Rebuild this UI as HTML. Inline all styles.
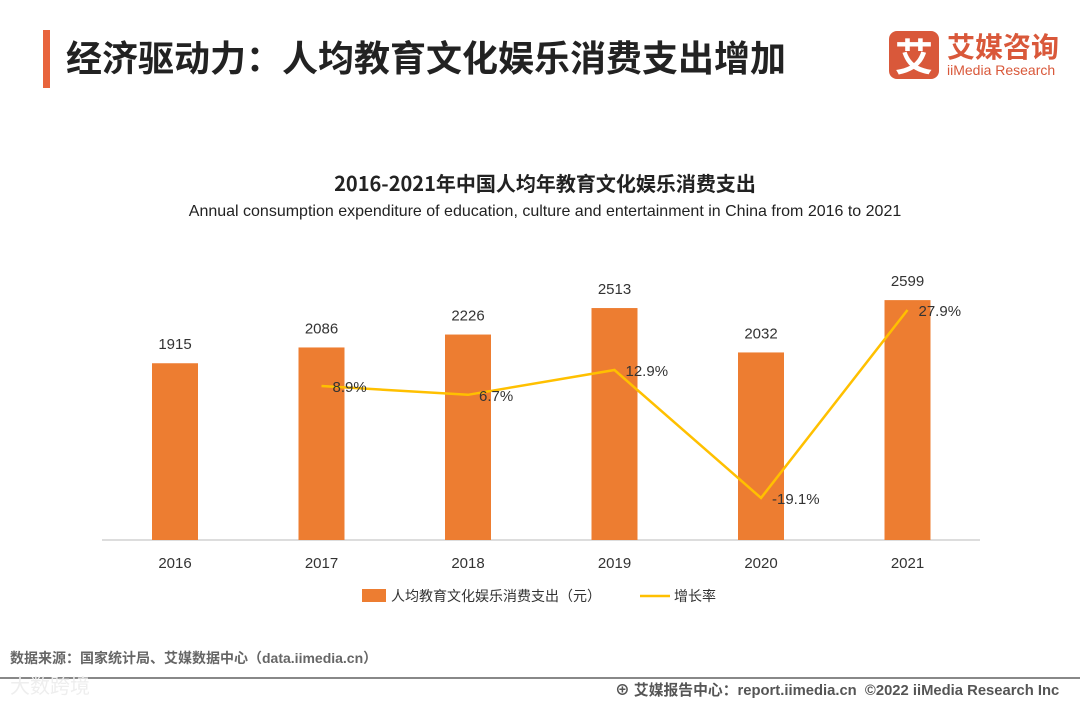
<!DOCTYPE html>
<html><head><meta charset="utf-8"><style>
body{margin:0;width:1080px;height:702px;background:#fff;font-family:"Liberation Sans","Noto Sans CJK SC",sans-serif;overflow:hidden;position:relative}
.abs{position:absolute}
</style></head><body>
<div class="abs" style="left:43px;top:30px;width:7px;height:58px;background:#e8643c"></div>
<div class="abs" style="left:66px;top:30px;font-size:36px;font-weight:bold;color:#222;font-family:'Noto Sans CJK SC',sans-serif;line-height:52px">经济驱动力：人均教育文化娱乐消费支出增加</div>
<div class="abs" style="left:889px;top:31px;width:50px;height:48px;background:#d9583a;border-radius:8px;color:#fff;font-size:38px;font-weight:bold;text-align:center;line-height:48px;font-family:'Noto Sans CJK SC',sans-serif">艾</div>
<div class="abs" style="left:947px;top:28px;font-size:28px;font-weight:bold;color:#d9583a;font-family:'Noto Sans CJK SC',sans-serif;line-height:36px">艾媒咨询</div>
<div class="abs" style="left:947px;top:62px;font-size:14px;color:#d9583a">iiMedia Research</div>
<div class="abs" style="left:0;width:1090px;top:168px;text-align:center;font-size:20px;font-weight:bold;color:#222;font-family:'Noto Sans CJK SC',sans-serif">2016-2021年中国人均年教育文化娱乐消费支出</div>
<div class="abs" style="left:0;width:1090px;top:203px;text-align:center;font-size:16px;color:#222">Annual consumption expenditure of education, culture and entertainment in China from 2016 to 2021</div>
<svg class="abs" style="left:0;top:0" width="1080" height="702" id="chart"></svg>
<div class="abs" style="left:10px;top:648px;font-size:14px;font-weight:bold;color:#666">数据来源：国家统计局、艾媒数据中心（data.iimedia.cn）</div>
<div class="abs" style="left:0;top:677px;width:1080px;height:2px;background:#888"></div>
<div class="abs" style="left:10px;top:670px;font-size:20px;color:#eee">大数跨境</div>
<div class="abs" style="left:615px;top:679px;font-size:14.8px;font-weight:bold;color:#555">⊕ 艾媒报告中心：report.iimedia.cn &nbsp;©2022 iiMedia Research Inc</div>
<script>
const years=["2016","2017","2018","2019","2020","2021"];
const spend=[1915,2086,2226,2513,2032,2599];
const growth=[null,8.9,6.7,12.9,-19.1,27.9];
const growthLabels=["","8.9%","6.7%","12.9%","-19.1%","27.9%"];
const svg=document.getElementById('chart');
const NS='http://www.w3.org/2000/svg';
const x=i=>175+i*146.5;
const y=v=>540-v*0.0923;
const yr=v=>421.6-v*4;
function mk(t,a){const e=document.createElementNS(NS,t);for(const k in a)e.setAttribute(k,a[k]);svg.appendChild(e);return e;}
const ax=mk('line',{x1:102,x2:980,y1:540,y2:540,stroke:'#bbb','stroke-width':1});


spend.forEach((v,i)=>{
const r=mk('rect',{x:x(i)-23,y:y(v),width:46,height:540-y(v),fill:'#ed7d31'});


const t=mk('text',{x:x(i),y:y(v)-14,'text-anchor':'middle','font-size':15,fill:'#333'});t.textContent=v;


const l=mk('text',{x:x(i),y:568,'text-anchor':'middle','font-size':15,fill:'#333'});l.textContent=years[i];


});
let pts=[];growth.forEach((g,i)=>{if(g!==null)pts.push(x(i)+','+yr(g));});
const pl=mk('polyline',{points:pts.join(' '),fill:'none',stroke:'#ffc000','stroke-width':2.5});


growth.forEach((g,i)=>{if(g===null)return;
const t=mk('text',{x:x(i)+11,y:yr(g)+6,'font-size':15,fill:'#333'});t.textContent=growthLabels[i];


});
const lg1=mk('rect',{x:362,y:589,width:24,height:13,fill:'#ed7d31'});


const lt1=mk('text',{x:391,y:601,'font-size':14,fill:'#333'});lt1.textContent='人均教育文化娱乐消费支出（元）';


const lg2=mk('line',{x1:640,x2:670,y1:596,y2:596,stroke:'#ffc000','stroke-width':2.5});


const lt2=mk('text',{x:674,y:601,'font-size':14,fill:'#333'});lt2.textContent='增长率';


</script>
</body></html>
